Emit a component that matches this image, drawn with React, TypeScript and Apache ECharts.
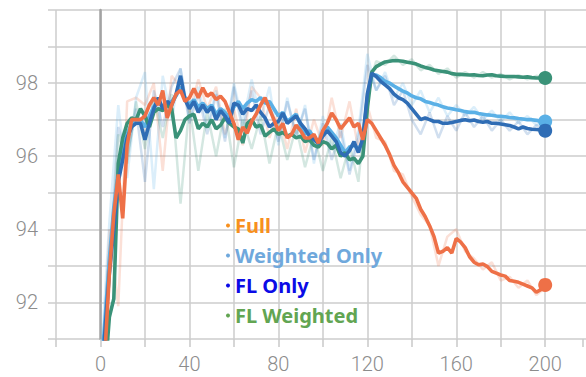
import React, { useEffect, useRef } from 'react';
import * as echarts from 'echarts';

const seriesNames = ['Full', 'Weighted Only', 'FL Only', 'FL Weighted'];
const xTickLabels = [0, 40, 80, 120, 160, 200];
const yTickLabels = [92, 94, 96, 98];

const epochs = [0, 2, 4, 6, 8, 10, 12, 14, 16, 18, 20, 22, 24, 26, 28, 30, 32, 34, 36, 38, 40, 42, 44, 46, 48, 50, 52, 54, 56, 58, 60, 62, 64, 66, 68, 70, 72, 74, 76, 78, 80, 82, 84, 86, 88, 90, 92, 94, 96, 98, 100, 102, 104, 106, 108, 110, 112, 114, 116, 118, 120, 122, 124, 126, 128, 130, 132, 134, 136, 138, 140, 142, 144, 146, 148, 150, 152, 154, 156, 158, 160, 162, 164, 166, 168, 170, 172, 174, 176, 178, 180, 182, 184, 186, 188, 190, 192, 194, 196, 198, 200];

const fullAcc = [89.0, 90.6, 92.8, 94.4, 95.5, 94.3, 96.3, 97.0, 97.0, 97.0, 97.1, 97.4, 97.6, 97.4, 97.8, 97.05, 97.4, 97.7, 97.8, 97.5, 97.6, 97.85, 97.6, 97.87, 97.64, 97.73, 97.55, 97.64, 97.5, 97.2, 96.9, 96.45, 96.8, 96.63, 96.95, 97.15, 97.4, 97.6, 97.3, 97.0, 96.7, 96.9, 96.5, 96.6, 96.85, 96.7, 96.5, 96.5, 96.6, 96.36, 96.7, 96.9, 97.18, 97.0, 96.75, 96.9, 97.05, 96.8, 96.9, 96.45, 97.0, 96.9, 96.7, 96.5, 96.3, 96.05, 95.75, 95.55, 95.3, 95.15, 95.0, 94.85, 94.55, 94.35, 94.1, 93.8, 93.35, 93.4, 93.5, 93.35, 93.75, 93.65, 93.5, 93.25, 93.1, 93.03, 93.05, 92.98, 92.85, 92.8, 92.75, 92.72, 92.6, 92.58, 92.55, 92.5, 92.45, 92.4, 92.28, 92.35, 92.48];

const weightedOnlyAcc = [89.8, 91.5, 93.2, 94.6, 95.6, 96.2, 96.6, 96.9, 97.0, 97.0, 96.8, 97.1, 97.35, 97.5, 97.35, 97.45, 97.5, 97.65, 97.9, 97.6, 97.4, 97.55, 97.35, 97.45, 97.3, 97.4, 97.15, 97.3, 97.2, 97.05, 97.35, 97.5, 97.3, 97.45, 97.55, 97.5, 97.6, 97.45, 97.5, 97.3, 97.1, 97.2, 96.95, 97.05, 97.15, 96.85, 96.6, 96.7, 96.5, 96.4, 96.6, 96.8, 96.65, 96.5, 96.3, 96.1, 96.25, 96.3, 96.2, 96.4, 97.6, 98.2, 98.22, 98.15, 98.05, 98.0, 97.92, 97.85, 97.78, 97.73, 97.65, 97.6, 97.57, 97.5, 97.47, 97.43, 97.4, 97.35, 97.32, 97.3, 97.27, 97.25, 97.22, 97.2, 97.2, 97.17, 97.15, 97.13, 97.12, 97.1, 97.09, 97.08, 97.06, 97.05, 97.03, 97.02, 97.0, 97.0, 96.98, 96.96, 96.95];

const flOnlyAcc = [89.5, 91.2, 92.8, 94.0, 95.3, 95.9, 96.5, 96.8, 96.9, 96.9, 96.45, 96.9, 97.3, 97.6, 97.3, 97.5, 97.4, 97.7, 98.2, 97.55, 97.3, 97.5, 97.2, 97.4, 97.2, 97.35, 97.0, 97.25, 97.1, 96.9, 97.45, 97.4, 97.15, 97.3, 97.25, 97.4, 97.2, 97.05, 96.8, 96.9, 96.95, 97.18, 96.9, 97.0, 97.1, 96.9, 96.75, 96.55, 96.45, 96.35, 96.55, 96.7, 96.55, 96.4, 96.1, 96.0, 96.15, 96.4, 96.1, 96.5, 97.7, 98.27, 98.18, 98.05, 97.95, 97.85, 97.7, 97.6, 97.55, 97.45, 97.3, 97.15, 97.0, 97.05, 97.0, 96.95, 96.95, 96.9, 96.9, 96.92, 96.95, 96.98, 97.0, 96.97, 96.99, 96.95, 96.93, 96.95, 96.9, 96.9, 96.88, 96.86, 96.84, 96.8, 96.75, 96.8, 96.76, 96.74, 96.73, 96.72, 96.7];

const flWeightedAcc = [88.5, 90.0, 91.6, 92.1, 95.8, 96.5, 96.9, 97.05, 97.0, 97.3, 97.1, 96.8, 97.2, 97.3, 97.25, 97.4, 97.3, 96.5, 96.7, 97.0, 97.1, 97.15, 96.75, 96.9, 96.8, 97.0, 96.75, 96.85, 97.05, 96.9, 96.8, 96.75, 96.36, 96.9, 97.0, 96.8, 96.85, 96.55, 96.65, 96.75, 96.6, 96.65, 96.55, 96.6, 96.5, 96.55, 96.4, 96.45, 96.3, 96.25, 96.4, 96.35, 96.2, 96.3, 96.0, 96.1, 95.9, 95.95, 95.8, 96.0, 97.3, 98.3, 98.45, 98.52, 98.58, 98.6, 98.62, 98.61, 98.6, 98.57, 98.55, 98.52, 98.47, 98.43, 98.4, 98.36, 98.34, 98.32, 98.3, 98.26, 98.24, 98.24, 98.23, 98.22, 98.23, 98.21, 98.2, 98.22, 98.23, 98.2, 98.19, 98.18, 98.18, 98.18, 98.17, 98.16, 98.17, 98.15, 98.14, 98.14, 98.14];

const rawEpochs = [0, 4, 8, 12, 16, 20, 24, 28, 32, 36, 40, 44, 48, 52, 56, 60, 64, 68, 72, 76, 80, 84, 88, 92, 96, 100, 104, 108, 112, 116, 120, 124, 128, 132, 136, 140, 144, 148, 152, 156, 160, 164, 168, 172, 176, 180, 184, 188, 192, 196, 200];

const fullRaw = [89.0, 94.0, 91.9, 97.5, 97.6, 97.4, 98.0, 95.6, 98.2, 97.9, 97.2, 98.1, 97.3, 97.9, 96.6, 97.3, 96.3, 97.9, 97.6, 96.5, 97.2, 96.2, 97.3, 96.1, 97.0, 96.3, 97.6, 96.5, 97.5, 96.2, 97.4, 96.5, 96.4, 95.6, 95.5, 94.9, 94.4, 94.1, 93.0, 93.8, 94.0, 93.4, 93.2, 92.9, 93.1, 92.6, 92.7, 92.4, 92.6, 92.2, 92.4];

const weightedOnlyRaw = [90.2, 94.2, 97.4, 95.4, 97.6, 98.3, 95.1, 98.2, 97.0, 98.4, 97.0, 97.9, 96.8, 97.8, 96.5, 98.0, 96.9, 98.1, 97.0, 97.9, 96.3, 97.6, 96.5, 97.4, 95.8, 97.1, 96.2, 96.9, 95.6, 96.7, 98.8, 97.8, 98.3, 97.6, 98.0, 97.4, 97.8, 97.2, 97.6, 97.1, 97.4, 97.1, 97.35, 97.0, 97.25, 96.95, 97.2, 96.9, 97.1, 96.85, 97.0];

const flOnlyRaw = [89.8, 93.0, 96.8, 96.0, 97.3, 95.3, 97.8, 96.8, 97.9, 98.4, 96.9, 97.7, 96.6, 97.7, 96.4, 97.9, 96.7, 97.8, 96.6, 97.4, 96.4, 97.5, 96.6, 97.3, 95.9, 96.9, 95.9, 96.7, 95.5, 96.5, 98.5, 97.8, 98.2, 97.4, 97.8, 97.0, 96.6, 97.2, 96.5, 97.1, 96.7, 97.2, 96.8, 97.1, 96.7, 97.0, 96.7, 96.95, 96.6, 96.85, 96.7];

const flWeightedRaw = [88.5, 92.5, 96.6, 95.8, 97.5, 96.2, 97.6, 96.5, 97.7, 94.7, 97.4, 95.6, 97.2, 96.0, 97.3, 95.7, 97.0, 96.2, 97.1, 95.8, 96.9, 95.9, 96.8, 95.7, 96.6, 95.6, 96.5, 95.4, 96.3, 95.3, 97.8, 98.6, 98.5, 98.75, 98.5, 98.65, 98.35, 98.5, 98.25, 98.4, 98.15, 98.3, 98.15, 98.3, 98.15, 98.25, 98.1, 98.22, 98.1, 98.2, 98.14];

const lineColors = ['#ee7047', '#5ab0e6', '#2f6db5', '#3a9278'];
const legendColors = ['#f7901e', '#6fa8dc', '#0b0be6', '#62a552'];

export default function App() {
  const ref = useRef<HTMLDivElement>(null);
  useEffect(() => {
    const chart = echarts.init(ref.current!, null, { renderer: 'svg' });
    const mainValues = [fullAcc, weightedOnlyAcc, flOnlyAcc, flWeightedAcc];
    const rawValues = [fullRaw, weightedOnlyRaw, flOnlyRaw, flWeightedRaw];

    const rawSeries = rawValues.map((vals, k) => ({
      type: 'line',
      name: seriesNames[k] + ' raw',
      xAxisIndex: 1,
      yAxisIndex: 1,
      data: vals.map((v, i) => [rawEpochs[i], v]),
      symbol: 'none',
      lineStyle: { color: lineColors[k], width: 2.5, opacity: 0.22 },
      itemStyle: { color: lineColors[k] },
      silent: true,
      z: 2,
    }));

    const drawOrder = [1, 3, 2, 0];
    const mainSeries = drawOrder.map((k) => {
      const vals = mainValues[k];
      const last = vals.length - 1;
      return {
        type: 'line',
        name: seriesNames[k],
        xAxisIndex: 1,
        yAxisIndex: 1,
        data: vals.map((v, i) =>
          i === last
            ? { value: [epochs[i], v], symbol: 'circle', symbolSize: 14 }
            : [epochs[i], v]
        ),
        symbol: 'none',
        showSymbol: true,
        showAllSymbol: true,
        lineStyle: { color: lineColors[k], width: 3.6 },
        itemStyle: { color: lineColors[k] },
        z: 3,
      };
    });

    const labelFont = { fontSize: 20, color: '#8c8c8c', fontFamily: 'Roboto', fontWeight: 300 };

    chart.setOption({
      animation: false,
      backgroundColor: '#ffffff',
      grid: [
        { left: 48, right: 0, top: 10, bottom: 38, containLabel: false },
        { left: 56, right: 0, top: 10, bottom: 38, containLabel: false },
      ],
      xAxis: [
        { gridIndex: 0, type: 'value', min: 0, max: 100, show: false },
        {
          gridIndex: 1,
          type: 'value',
          min: -20,
          max: 217,
          interval: 20,
          axisLine: { show: false },
          axisTick: { show: true, length: 8, lineStyle: { color: '#c8c8c8', width: 1.5 } },
          splitLine: { show: true, showMaxLine: false, lineStyle: { color: '#cccccc', width: 1.5 } },
          axisLabel: {
            ...labelFont,
            margin: 15,
            formatter: (v: number) => (xTickLabels.includes(v) ? String(v) : ''),
          },
        },
      ],
      yAxis: [
        {
          gridIndex: 0,
          type: 'value',
          min: 91,
          max: 100,
          interval: 1,
          axisLine: { show: false },
          axisTick: { show: false },
          splitLine: { show: true, lineStyle: { color: '#cccccc', width: 1.5 } },
          axisLabel: {
            ...labelFont,
            margin: 10,
            formatter: (v: number) => (yTickLabels.includes(v) ? String(v) : ''),
          },
        },
        {
          gridIndex: 1,
          type: 'value',
          min: 91,
          max: 100,
          interval: 1,
          axisLine: { show: true, onZero: true, lineStyle: { color: '#a3a3a3', width: 2.5 } },
          axisTick: { show: false },
          axisLabel: { show: false },
          splitLine: { show: false },
        },
      ],
      legend: {
        orient: 'vertical',
        left: 221,
        top: 210,
        icon: 'circle',
        itemWidth: 4,
        itemHeight: 4,
        itemGap: 9,
        selectedMode: false,
        textStyle: { fontSize: 20, lineHeight: 21, fontWeight: 'bold', fontFamily: 'Noto Sans' },
        data: seriesNames.map((n, i) => ({
          name: n,
          textStyle: { color: legendColors[i] },
          itemStyle: { color: legendColors[i] },
        })),
      },
      series: [...rawSeries, ...mainSeries],
    });
    return () => chart.dispose();
  }, []);
  return <div ref={ref} style={{ position: 'fixed', left: 0, top: 0, width: 586, height: 377 }} />;
}
